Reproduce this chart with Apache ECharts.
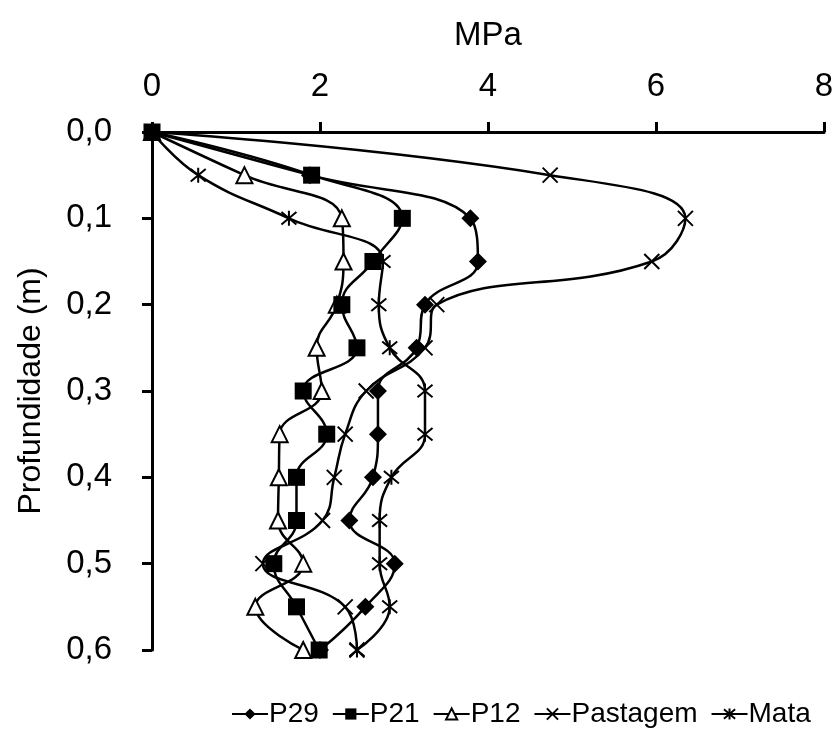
<!DOCTYPE html>
<html>
<head>
<meta charset="utf-8">
<script src="https://cdn.jsdelivr.net/npm/echarts@6/dist/echarts.min.js"></script>
<style>
  html, body { margin: 0; padding: 0; background: #fff; }
  #chart { width: 837px; height: 737px; }
</style>
</head>
<body>
<div id="chart"></div>
<script>
// Depth (m) of each reading
const depths   = [0, 0.05, 0.10, 0.15, 0.20, 0.25, 0.30, 0.35, 0.40, 0.45, 0.50, 0.55, 0.60];
// Resistance (MPa) per series
const p29      = [0, 1.88, 3.79, 3.88, 3.25, 3.15, 2.69, 2.69, 2.63, 2.35, 2.89, 2.54, 2.00];
const p21      = [0, 1.90, 2.98, 2.63, 2.26, 2.44, 1.80, 2.08, 1.72, 1.72, 1.45, 1.72, 1.99];
const p12      = [0, 1.10, 2.26, 2.28, 2.20, 1.96, 2.02, 1.52, 1.51, 1.50, 1.80, 1.23, 1.80];
const pastagem = [0, 4.74, 6.35, 5.95, 3.39, 3.25, 2.55, 2.30, 2.17, 2.03, 1.32, 2.30, 2.44];
const mata     = [0, 0.55, 1.63, 2.75, 2.70, 2.83, 3.25, 3.25, 2.85, 2.71, 2.71, 2.83, 2.44];

const seriesNames = ['P29', 'P21', 'P12', 'Pastagem', 'Mata'];

const FONT = 'Liberation Sans, Arial, sans-serif';
const crossPath = 'path://M0,0 L20,20 M20,0 L0,20';
const starPath = 'path://M0,0 L20,20 M20,0 L0,20 M10,-2 L10,22';

function pairs(vals) { return vals.map((v, i) => [v, depths[i]]); }

function mk(name, vals, symbol, size, itemStyle, z) {
  return {
    name: name,
    type: 'line',
    data: pairs(vals),
    smooth: 0.45,
    symbol: symbol,
    symbolSize: size,
    showAllSymbol: true,
    lineStyle: { color: '#000', width: 2.5 },
    itemStyle: itemStyle,
    emphasis: { disabled: true },
    z: z
  };
}

const chart = echarts.init(document.getElementById('chart'), null, { renderer: 'canvas' });
chart.setOption({
  animation: false,
  backgroundColor: '#fff',
  grid: { left: 152, right: 13, top: 132, bottom: 87, containLabel: false },
  legend: {
    bottom: 4,
    left: 226,
    itemGap: 13,
    itemWidth: 36,
    itemHeight: 14,
    textStyle: { fontFamily: FONT, fontSize: 28, color: '#000', padding: [0, 0, 0, -4] },
    data: seriesNames
  },
  xAxis: {
    type: 'value',
    position: 'top',
    min: 0, max: 8, interval: 2,
    name: 'MPa',
    nameLocation: 'middle',
    nameGap: 80,
    nameTextStyle: { fontFamily: FONT, fontSize: 33, color: '#000' },
    axisLine: { show: true, onZero: false, lineStyle: { color: '#000', width: 3 } },
    axisTick: { show: true, length: 10, lineStyle: { color: '#000', width: 3 } },
    axisLabel: {
      fontFamily: FONT, fontSize: 33, color: '#000', margin: 29,
      formatter: v => String(v)
    },
    splitLine: { show: false }
  },
  yAxis: {
    type: 'value',
    inverse: true,
    min: 0, max: 0.6, interval: 0.1,
    name: 'Profundidade (m)',
    nameLocation: 'middle',
    nameGap: 105,
    nameRotate: 90,
    nameTextStyle: { fontFamily: FONT, fontSize: 32, color: '#000' },
    axisLine: { show: true, onZero: false, lineStyle: { color: '#000', width: 3 } },
    axisTick: { show: true, length: 10, lineStyle: { color: '#000', width: 3 } },
    axisLabel: {
      fontFamily: FONT, fontSize: 33, color: '#000', margin: 40,
      formatter: v => v.toFixed(1).replace('.', ',')
    },
    splitLine: { show: false }
  },
  series: [
    mk('P29', p29, 'diamond', 18, { color: '#000' }, 3),
    mk('P21', p21, 'rect', 17, { color: '#000' }, 5),
    mk('P12', p12, 'triangle', 16, { color: '#fff', borderColor: '#000', borderWidth: 2 }, 3),
    mk('Pastagem', pastagem, crossPath, 15, { color: 'none', borderColor: '#000', borderWidth: 2 }, 4),
    mk('Mata', mata, starPath, 15, { color: 'none', borderColor: '#000', borderWidth: 2 }, 4)
  ]
});
</script>
</body>
</html>
